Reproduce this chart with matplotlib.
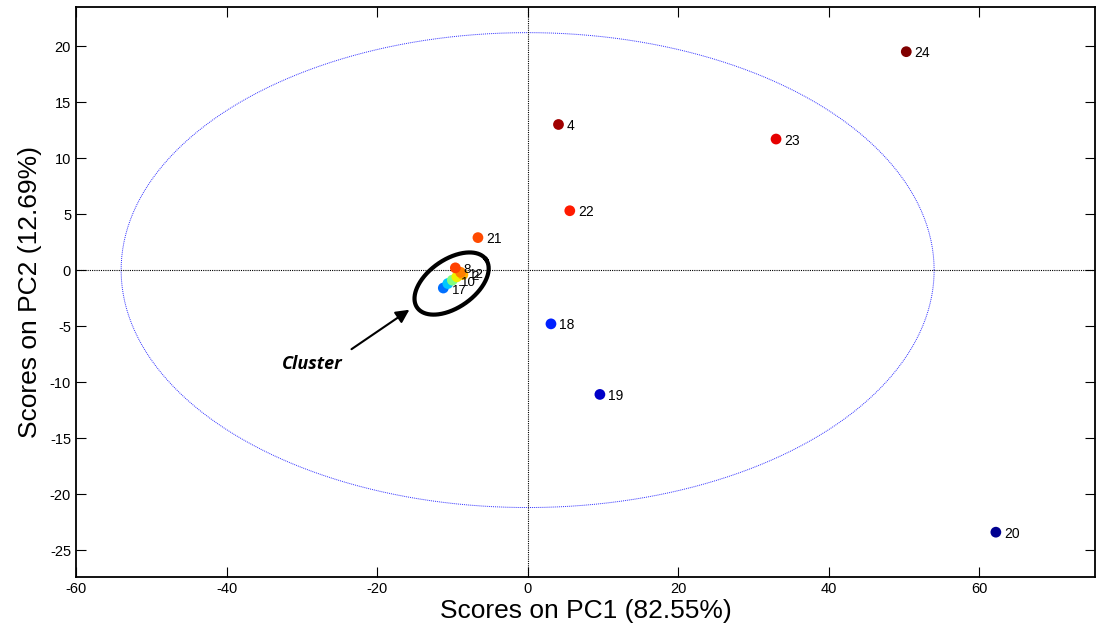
import numpy as np
import matplotlib
matplotlib.use('Agg')
import matplotlib.pyplot as plt

plt.rcParams['font.family'] = ['Liberation Sans', 'DejaVu Sans']
plt.rcParams['axes.unicode_minus'] = False

# sample scores
labels = ['24', '4', '23', '22', '21', '18', '19', '20',
          '17', '14', '10', '16', '2', '12', '8']
pc1 = [50.3, 4.1, 33.0, 5.6, -6.6, 3.1, 9.6, 62.2,
       -11.2, -10.6, -10.0, -9.4, -8.6, -8.9, -9.6]
pc2 = [19.5, 13.0, 11.7, 5.3, 2.9, -4.8, -11.1, -23.4,
       -1.6, -1.2, -0.9, -0.6, -0.4, -0.2, 0.2]
colors = ['#800000', '#a00000', '#e60000', '#ff1a00', '#ff4a00', '#0020ff', '#0000c8', '#000090',
          '#0070ff', '#00c8ff', '#80ff80', '#f0f000', '#ffb000', '#ff8000', '#ff4000']
shown = ['24', '4', '23', '22', '21', '18', '19', '20', '17', '10', '2', '12', '8']

ell_a = 54.0   # hotelling ellipse half widths
ell_b = 21.2

fig = plt.figure(figsize=(10.96, 6.31), dpi=100)
ax = fig.add_axes([0.0693, 0.0856, 0.9300, 0.9035])

t = np.linspace(0, 2*np.pi, 400)
ax.plot(ell_a*np.cos(t), ell_b*np.sin(t), color='#3030ff', lw=0.7, ls=(0, (1, 1)))
ax.axhline(0, color='k', lw=0.8, ls=(0, (1, 1)))
ax.axvline(0, color='k', lw=0.8, ls=(0, (1, 1)))

ax.scatter(pc1, pc2, c=colors, s=60, zorder=3, edgecolors='none')
cluster = ['17', '10', '2', '12', '8']
for lab, x, y in zip(labels, pc1, pc2):
    if lab in shown:
        fs = 9.5 if lab in cluster else 10
        ax.annotate(lab, (x, y), xytext=(6, -4), textcoords='offset points',
                    fontsize=fs, zorder=4)

ax.set_xlim(-60, 75.4)
ax.set_ylim(-27.4, 23.5)
ax.set_xticks(np.arange(-60, 61, 20))
ax.set_yticks(np.arange(-25, 21, 5))
ax.tick_params(direction='in', length=7, top=True, right=True, labelsize=10.5)
for s in ax.spines.values():
    s.set_linewidth(1.3)

ax.set_xlabel('Scores on PC1 (82.55%)', fontsize=19, labelpad=2)
ax.set_ylabel('Scores on PC2 (12.69%)', fontsize=19, labelpad=6)

# cluster ring (drawn in pixel units, converted to data)
sx = 7.52
sy = 11.2
ang = np.radians(35)
ex = 42*np.cos(t)*np.cos(ang) - 24*np.sin(t)*np.sin(ang)
ey = 42*np.cos(t)*np.sin(ang) + 24*np.sin(t)*np.cos(ang)
ax.plot(-10.1 + ex/sx, -1.2 + ey/sy, color='k', lw=3, zorder=5)

ax.annotate('', xy=(-15.4, -3.4), xytext=(-23.7, -7.2),
            arrowprops=dict(arrowstyle='-|>', color='k', lw=1.5, mutation_scale=20))
ax.text(-28.6, -8.4, 'Cluster', fontsize=13, fontweight='bold', fontstyle='italic',
        family='Open Sans', ha='center', va='center')

fig.savefig('out.png', dpi=100)
